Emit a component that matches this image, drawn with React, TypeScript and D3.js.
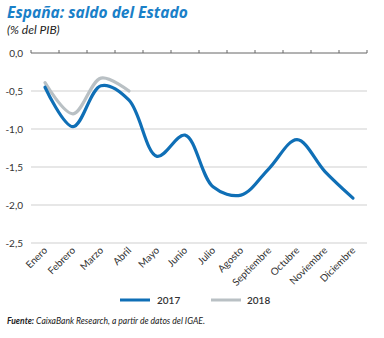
import React from "react";
import * as d3 from "d3";

const months = ["Enero","Febrero","Marzo","Abril","Mayo","Junio","Julio","Agosto","Septiembre","Octubre","Noviembre","Diciembre"];
const values2017 = [-0.45,-0.97,-0.43,-0.62,-1.36,-1.08,-1.76,-1.87,-1.52,-1.14,-1.56,-1.91];
const values2018 = [-0.39,-0.8,-0.33,-0.5];
const yTicks = [0,-0.5,-1,-1.5,-2,-2.5];
const yTickLabels = ["0,0","-0,5","-1,0","-1,5","-2,0","-2,5"];

const BLUE = "#0f6fb6";
const GRAY = "#b9c0c4";
const FONT = "Lato, 'Open Sans', sans-serif";
const TITLE_FONT = "'Open Sans', Lato, sans-serif";

export default function App() {
  const x = d3.scaleBand<string>().domain(months).range([31, 367]);
  const y = d3.scaleLinear().domain([-2.5, 0]).range([243, 53]);
  const cx = (m: string) => (x(m) as number) + x.bandwidth() / 2;
  const line = d3.line<number>()
    .x((_, i) => cx(months[i]))
    .y((d) => y(d))
    .curve(d3.curveCatmullRom.alpha(0.5));

  return (
    <svg width={384} height={338} style={{ position: "absolute", left: 0, top: 0, background: "#fff" }}>
      <text x={7} y={18} fill="#1a80c8" fontFamily={TITLE_FONT} fontWeight={700} fontStyle="italic" fontSize={15.5}>España: saldo del Estado</text>
      <text x={7} y={34} fill="#222" fontFamily={FONT} fontStyle="italic" fontSize={12}>(% del PIB)</text>
      {yTicks.map((t, i) => (
        <g key={t}>
          {t !== 0 && <line x1={31} x2={367} y1={y(t)} y2={y(t)} stroke="#cfcfcf" strokeWidth={1} />}
          <text x={23} y={y(t) + 3.5} textAnchor="end" fontFamily={FONT} fontSize={10} fill="#333">{yTickLabels[i]}</text>
        </g>
      ))}
      <line x1={31} x2={367} y1={y(0)} y2={y(0)} stroke="#666" strokeWidth={1} />
      {months.map((m) => (
        <line key={"t" + m} x1={x(m) as number} x2={x(m) as number} y1={y(0)} y2={y(0) - 3} stroke="#666" />
      ))}
      <line x1={367} x2={367} y1={y(0)} y2={y(0) - 3} stroke="#666" />
      {months.map((m) => (
        <text key={m} transform={`translate(${cx(m) + 3},${251}) rotate(-45)`} textAnchor="end" fontFamily={FONT} fontSize={10} fill="#333">{m}</text>
      ))}
      <path d={line(values2018) || ""} fill="none" stroke={GRAY} strokeWidth={3.2} strokeLinecap="round" />
      <path d={line(values2017) || ""} fill="none" stroke={BLUE} strokeWidth={3.2} strokeLinecap="round" />
      <line x1={120} x2={150} y1={300} y2={300} stroke={BLUE} strokeWidth={3} />
      <text x={157} y={303.5} fontFamily={FONT} fontSize={10} fontWeight={600} fill="#333">2017</text>
      <line x1={211} x2={241} y1={300} y2={300} stroke={GRAY} strokeWidth={3} />
      <text x={247} y={303.5} fontFamily={FONT} fontSize={10} fontWeight={600} fill="#333">2018</text>
      <text x={7} y={324} fontFamily={FONT} fontStyle="italic" fontSize={9} fill="#222" textLength={198} lengthAdjust="spacingAndGlyphs">
        <tspan fontWeight={700}>Fuente:</tspan> CaixaBank Research, a partir de datos del IGAE.
      </text>
    </svg>
  );
}
